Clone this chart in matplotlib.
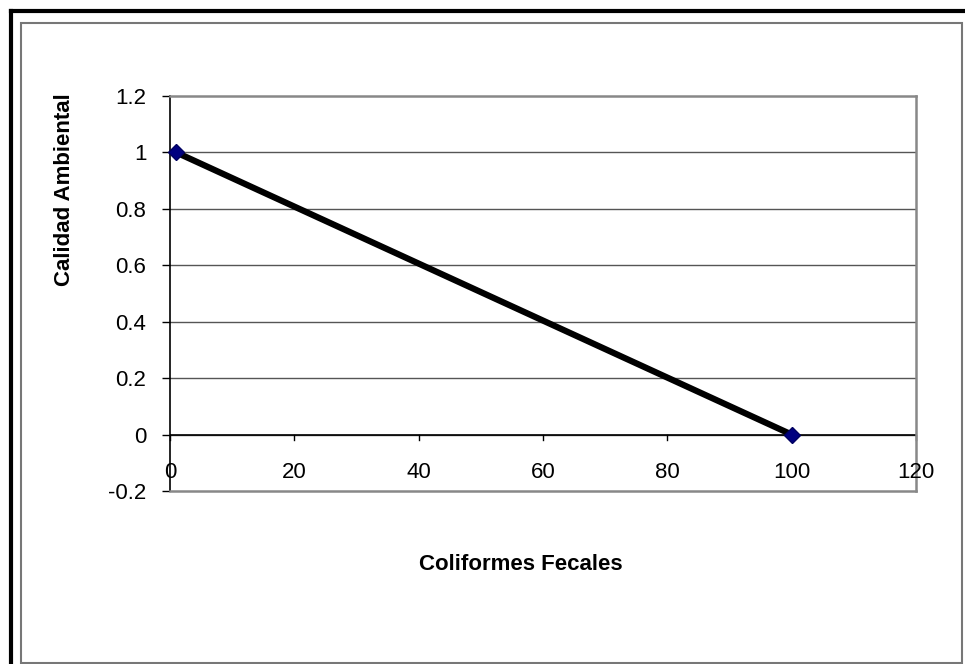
import matplotlib
matplotlib.use("Agg")
import matplotlib.pyplot as plt
from matplotlib.patches import Rectangle
from matplotlib.lines import Line2D

x_vals = [1, 100]
y_vals = [1, 0]
x_ticks = [0, 20, 40, 60, 80, 100, 120]
y_ticks = [-0.2, 0, 0.2, 0.4, 0.6, 0.8, 1.0, 1.2]
y_ticklabels = ["-0.2", "0", "0.2", "0.4", "0.6", "0.8", "1", "1.2"]
x_label = "Coliformes Fecales"
y_label = "Calidad Ambiental"

plt.rcParams['font.family'] = ['Liberation Sans', 'DejaVu Sans']

W, H = 965, 664
fig = plt.figure(figsize=(W/100, H/100), dpi=100)

# outer borders
fig.add_artist(Line2D([10.5/W, 10.5/W], [0, 1 - 10.5/H], transform=fig.transFigure, color='black', lw=3))
fig.add_artist(Line2D([10.5/W, 1], [1 - 10.5/H, 1 - 10.5/H], transform=fig.transFigure, color='black', lw=3))
fig.add_artist(Rectangle((21/W, 1/H), (962-21)/W, (662-22)/H, transform=fig.transFigure,
                         fill=False, edgecolor='#777777', lw=1.5))

left, right, top, bottom = 170, 916, 96, 491
ax = fig.add_axes([left/W, 1 - bottom/H, (right-left)/W, (bottom-top)/H])
ax.set_xlim(0, 120)
ax.set_ylim(-0.2, 1.2)

for s in ['top', 'right', 'bottom']:
    ax.spines[s].set_color('#888888')
    ax.spines[s].set_linewidth(1.8)
ax.spines['left'].set_color('black')
ax.spines['left'].set_linewidth(1.2)

for yv in y_ticks[1:-1]:
    ax.axhline(yv, color='#555555', lw=1, zorder=1)
ax.axhline(0, color='black', lw=1.2, zorder=2)

ax.set_yticks(y_ticks)
ax.set_yticklabels(y_ticklabels, fontsize=16)
ax.tick_params(axis='y', direction='out', length=6, width=1, pad=11)

ax.set_xticks(x_ticks)
ax.set_xticklabels([])
ax.tick_params(axis='x', length=0)
for xv in x_ticks:
    ax.plot([xv, xv], [0, -0.021], color='black', lw=1, zorder=2, clip_on=False)
    ax.text(xv, -0.154, str(xv), ha='center', va='baseline', fontsize=16)

ax.plot(x_vals, y_vals, color='black', lw=4.5, zorder=3, solid_capstyle='butt')
ax.plot(x_vals, y_vals, linestyle='none', marker='D', markersize=8,
        markerfacecolor='#000080', markeredgecolor='#000060', zorder=4, clip_on=False)

fig.text(65/W, 1 - 190/H, y_label, rotation=90, ha='center', va='center', fontsize=16, fontweight='bold')
fig.text(521/W, 1 - 564/H, x_label, ha='center', va='center', fontsize=16, fontweight='bold')

fig.savefig('out.png', dpi=100)
